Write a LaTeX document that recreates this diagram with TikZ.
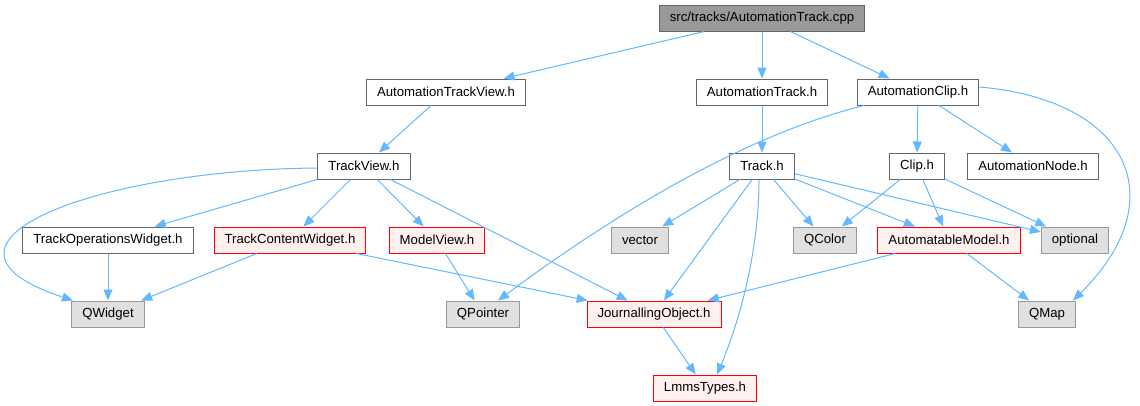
\documentclass[tikz,border=0pt]{standalone}
\usepackage{fontspec}
\setmainfont{Liberation Sans}
\usetikzlibrary{arrows.meta}
\definecolor{edgeblue}{HTML}{63B8FF}
\definecolor{rootfill}{HTML}{999999}
\definecolor{rootline}{HTML}{666666}
\definecolor{sysfill}{HTML}{E0E0E0}
\definecolor{sysline}{HTML}{999999}
\definecolor{hdrfill}{HTML}{FFF0F0}
\tikzset{file/.style={draw=rootline,fill=white,line width=1pt,minimum height=26pt,inner xsep=10.5pt,inner ysep=0pt,font=\fontsize{13.2}{15}\selectfont},
  rootfile/.style={file,fill=rootfill},
  sysfile/.style={file,fill=sysfill,draw=sysline},
  redfile/.style={file,fill=hdrfill,draw=red},
  arr/.style={-{Triangle[length=11pt,width=9pt]},draw=edgeblue,line width=1pt}}
\begin{document}
\begin{tikzpicture}[x=1pt,y=-1pt]
\useasboundingbox (0,0) rectangle (1140,405);
\node[rootfile] (root) at (762,18){src/tracks/AutomationTrack.cpp};
\node[file] (atv) at (446,92){AutomationTrackView.h};
\node[file] (at) at (762,92){AutomationTrack.h};
\node[file] (ac) at (918,92){AutomationClip.h};
\node[file] (tv) at (364,166){TrackView.h};
\node[file] (trk) at (762,166){Track.h};
\node[file] (clip) at (917,166){Clip.h};
\node[file] (anode) at (1033,166){AutomationNode.h};
\node[file] (tow) at (108,240){TrackOperationsWidget.h};
\node[redfile] (tcw) at (290,240){TrackContentWidget.h};
\node[redfile] (mv) at (437,240){ModelView.h};
\node[sysfile] (vec) at (640,240){vector};
\node[sysfile] (qcolor) at (825,240){QColor};
\node[redfile] (amodel) at (949,240){AutomatableModel.h};
\node[sysfile] (opt) at (1075,240){optional};
\node[sysfile] (qwidget) at (108,314){QWidget};
\node[sysfile] (qptr) at (483,314){QPointer};
\node[redfile] (jobj) at (654,314){JournallingObject.h};
\node[sysfile] (qmap) at (1047,314){QMap};
\node[redfile] (ltypes) at (705,388){LmmsTypes.h};
\draw[arr] (root)--(atv); \draw[arr] (root)--(at); \draw[arr] (root)--(ac);
\draw[arr] (atv)--(tv); \draw[arr] (at)--(trk);
\draw[arr] (ac)--(clip); \draw[arr] (ac)--(anode);
\draw[arr] ([xshift=-54pt]ac.south) .. controls (761,131) and (639,196) .. ([xshift=15pt]qptr.north);
\draw[arr] ([yshift=5pt]ac.east) .. controls (1130,100) and (1175,200) .. ([xshift=26pt]qmap.north);
\draw[arr] ([yshift=-2pt]tv.west) .. controls (90,170) and (-95,245) .. ([xshift=-35pt]qwidget.north);
\draw[arr] (tv)--(tow); \draw[arr] (tv)--(tcw); \draw[arr] (tv)--(mv); \draw[arr] (tv)--(jobj);
\draw[arr] (trk)--(vec); \draw[arr] (trk)--(qcolor); \draw[arr] (trk)--(amodel);
\draw[arr] (trk)--(opt); \draw[arr] (trk)--(jobj);
\draw[arr] ([xshift=-3pt]trk.south) .. controls (759,250) and (740,320) .. ([xshift=12pt]ltypes.north);
\draw[arr] (clip)--(qcolor); \draw[arr] (clip)--(amodel); \draw[arr] (clip)--(opt);
\draw[arr] (tow)--(qwidget); \draw[arr] (tcw)--(qwidget); \draw[arr] (tcw)--(jobj);
\draw[arr] (mv)--(qptr); \draw[arr] (amodel)--(jobj); \draw[arr] (amodel)--(qmap);
\draw[arr] (jobj)--(ltypes);
\end{tikzpicture}
\end{document}
